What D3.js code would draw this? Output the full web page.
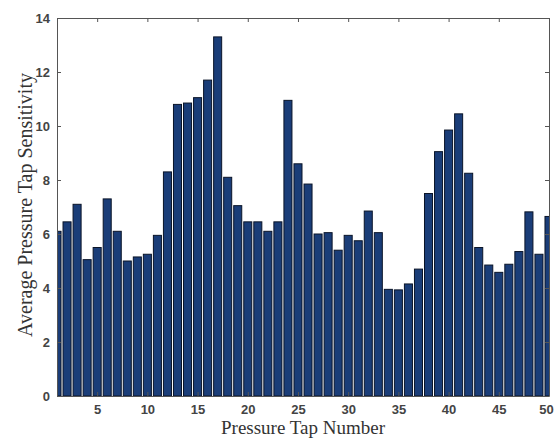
<!DOCTYPE html>
<html>
<head>
<meta charset="utf-8">
<script src="https://cdn.jsdelivr.net/npm/d3@7"></script>
<style>
  body { margin: 0; background: #fff; }
  svg { display: block; }
</style>
</head>
<body>
<div class="wrapper"></div>
<script>
const width = 555;
const height = 439;
const margin = { top: 18, right: 6, bottom: 43, left: 57 };

// Tap numbers 1..50 and their average sensitivity
const taps = d3.range(1, 51);
const sensitivity = [
  6.1, 6.45, 7.1, 5.05, 5.5, 7.3, 6.1, 5.0, 5.15, 5.25,
  5.95, 8.3, 10.8, 10.85, 11.05, 11.7, 13.3, 8.1, 7.05, 6.45,
  6.45, 6.1, 6.45, 10.95, 8.6, 7.85, 6.0, 6.05, 5.4, 5.95,
  5.75, 6.85, 6.05, 3.95, 3.93, 4.15, 4.7, 7.5, 9.05, 9.85,
  10.45, 8.25, 5.5, 4.85, 4.58, 4.88, 5.35, 6.82, 5.25, 6.65
];
const xTicks = [5, 10, 15, 20, 25, 30, 35, 40, 45, 50];
const yTicks = [0, 2, 4, 6, 8, 10, 12, 14];

const data = taps.map((t, i) => ({ tap: t, value: sensitivity[i] }));

const x = d3.scaleLinear().domain([1, 50]).range([margin.left, width - margin.right]);
const y = d3.scaleLinear().domain([0, 14]).range([height - margin.bottom, margin.top]);
const barW = (x(2) - x(1)) * 0.8;

const svg = d3.select(".wrapper")
  .append("svg")
  .attr("width", width)
  .attr("height", height);

svg.append("clipPath")
  .attr("id", "plot-clip")
  .append("rect")
  .attr("x", margin.left)
  .attr("y", margin.top)
  .attr("width", width - margin.left - margin.right)
  .attr("height", height - margin.top - margin.bottom);

svg.append("g")
  .attr("clip-path", "url(#plot-clip)")
  .selectAll("rect")
  .data(data)
  .join("rect")
  .attr("x", (d) => x(d.tap) - barW / 2)
  .attr("y", (d) => y(d.value))
  .attr("width", barW)
  .attr("height", (d) => y(0) - y(d.value))
  .attr("fill", "#1a3d78")
  .attr("stroke", "#0a1428")
  .attr("stroke-width", 1);

// box axes with inward ticks, MATLAB style
const axisColor = "#555";
const tickFont = "bold 13px 'Liberation Sans', Arial, sans-serif";

const axBottom = svg.append("g")
  .attr("transform", `translate(0,${y(0)})`)
  .call(d3.axisBottom(x).tickValues(xTicks).tickSizeInner(-4).tickSizeOuter(0).tickPadding(9));
const axTop = svg.append("g")
  .attr("transform", `translate(0,${y(14)})`)
  .call(d3.axisTop(x).tickValues(xTicks).tickSizeInner(-4).tickSizeOuter(0).tickFormat(""));
const axLeft = svg.append("g")
  .attr("transform", `translate(${x(1)},0)`)
  .call(d3.axisLeft(y).tickValues(yTicks).tickSizeInner(-4).tickSizeOuter(0).tickPadding(7));
const axRight = svg.append("g")
  .attr("transform", `translate(${x(50)},0)`)
  .call(d3.axisRight(y).tickValues(yTicks).tickSizeInner(-4).tickSizeOuter(0).tickFormat(""));

for (const g of [axBottom, axTop, axLeft, axRight]) {
  g.selectAll("path").attr("stroke", axisColor);
  g.selectAll("line").attr("stroke", axisColor);
  g.selectAll("text")
    .style("font", tickFont)
    .attr("fill", "#444");
}

// keep the last x label inside the window
axBottom.selectAll(".tick text")
  .filter((d) => d === 50)
  .attr("dx", -3);

svg.append("text")
  .attr("x", 303)
  .attr("y", 434)
  .attr("text-anchor", "middle")
  .style("font", "19px 'Liberation Serif', 'Times New Roman', serif")
  .attr("fill", "#333")
  .text("Pressure Tap Number");

svg.append("text")
  .attr("transform", `translate(32,205) rotate(-90)`)
  .attr("text-anchor", "middle")
  .style("font", "20px 'Liberation Serif', 'Times New Roman', serif")
  .attr("fill", "#333")
  .text("Average Pressure Tap Sensitivity");
</script>
</body>
</html>
